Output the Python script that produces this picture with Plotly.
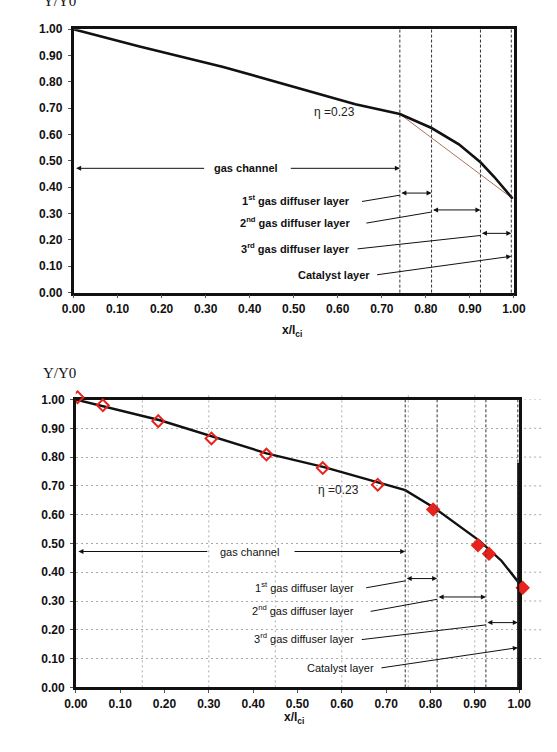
import plotly.graph_objects as go

# ---------------- data ----------------
# top chart: model curve
top_x = [0.0, 0.15, 0.34, 0.49, 0.64, 0.741, 0.813, 0.875, 0.924, 0.955, 0.997]
top_y = [1.0, 0.935, 0.857, 0.787, 0.715, 0.678, 0.625, 0.563, 0.495, 0.44, 0.357]
# top chart: straight reference chord
chord_x = [0.741, 0.997]
chord_y = [0.678, 0.357]

# bottom chart: model curve
bot_x = [0.0, 0.19, 0.43, 0.56, 0.743, 0.81, 0.91, 0.96, 1.0]
bot_y = [1.0, 0.928, 0.813, 0.765, 0.685, 0.622, 0.51, 0.44, 0.362]
# bottom chart: experimental points
exp_x = [0.004, 0.061, 0.186, 0.306, 0.43, 0.557, 0.681, 0.806, 0.907, 0.932, 1.008]
exp_y = [1.008, 0.98, 0.925, 0.865, 0.809, 0.762, 0.704, 0.618, 0.494, 0.464, 0.346]

# layer boundaries (x/lci)
bounds_top = [0.741, 0.813, 0.924, 0.994]
bounds_bot = [0.743, 0.815, 0.925, 0.997]

x_ticks = [0.0, 0.1, 0.2, 0.3, 0.4, 0.5, 0.6, 0.7, 0.8, 0.9, 1.0]
y_ticks = [0.0, 0.1, 0.2, 0.3, 0.4, 0.5, 0.6, 0.7, 0.8, 0.9, 1.0]
tick_text = ["<b>%.2f</b>" % v for v in x_ticks]
# vertical grid of the bottom chart (spacing 0.15)
vgrid_bot = [0.15, 0.30, 0.45, 0.60, 0.75, 0.90]

eta_label = "\u03b7 =0.23"
layer_labels = ["1<sup>st</sup> gas diffuser layer",
                "2<sup>nd</sup> gas diffuser layer",
                "3<sup>rd</sup> gas diffuser layer",
                "Catalyst layer"]
channel_label = "gas channel"

# ---------------- layout geometry ----------------
X1_DOM = [0.1154, 0.9417]
Y1_DOM = [0.6130, 0.9698]
X2_DOM = [0.1197, 0.9515]
Y2_DOM = [0.0781, 0.4681]
# invisible wider axes for the experimental markers (same scale, no clipping at frame)
X3_DOM = [X2_DOM[0], 0.99]
Y3_DOM = [Y2_DOM[0], 0.49]
x3_max = (X3_DOM[1] - X3_DOM[0]) / (X2_DOM[1] - X2_DOM[0])
y3_max = (Y3_DOM[1] - Y3_DOM[0]) / (Y2_DOM[1] - Y2_DOM[0])

# ---------------- figure ----------------
fig = go.Figure()

fig.add_trace(go.Scatter(x=chord_x, y=chord_y, mode="lines",
                         line=dict(color="#b0705a", width=1), xaxis="x", yaxis="y",
                         showlegend=False))
fig.add_trace(go.Scatter(x=top_x, y=top_y, mode="lines",
                         line=dict(color="#111111", width=2.6), xaxis="x", yaxis="y",
                         showlegend=False))

fig.add_trace(go.Scatter(x=bot_x, y=bot_y, mode="lines",
                         line=dict(color="#111111", width=2.4), xaxis="x2", yaxis="y2",
                         showlegend=False))
sym = ["diamond-open" if v < 0.75 else "diamond" for v in exp_x]
fig.add_trace(go.Scatter(x=exp_x, y=exp_y, mode="markers",
                         marker=dict(color="#e8231c", size=9, symbol=sym,
                                     line=dict(color="#e8231c", width=2)),
                         xaxis="x3", yaxis="y3", showlegend=False))

tickfont = dict(family="Liberation Sans, Arial", size=12, color="#111")
ax_common = dict(range=[0, 1], showline=True, mirror=True, linecolor="#111", linewidth=2.5,
                 zeroline=False, ticks="outside", ticklen=3, tickcolor="#555",
                 tickfont=tickfont, fixedrange=True)
hidden = dict(showline=False, showgrid=False, zeroline=False, showticklabels=False,
              ticks="", fixedrange=True)

fig.update_layout(
    width=557, height=752,
    margin=dict(l=0, r=0, t=0, b=0),
    paper_bgcolor="white", plot_bgcolor="rgba(0,0,0,0)",
    xaxis=dict(domain=X1_DOM, anchor="y", tickvals=x_ticks, ticktext=tick_text,
               showgrid=False, **ax_common),
    yaxis=dict(domain=Y1_DOM, anchor="x", tickvals=y_ticks, ticktext=tick_text,
               showgrid=False, ticklabelstandoff=3, **ax_common),
    xaxis2=dict(domain=X2_DOM, anchor="y2", tickvals=x_ticks, ticktext=tick_text,
                showgrid=False, **ax_common),
    yaxis2=dict(domain=Y2_DOM, anchor="x2", tickvals=y_ticks, ticktext=tick_text,
                showgrid=True, gridcolor="#aaaaaa", griddash="2px,3px", gridwidth=1,
                ticklabelstandoff=3, **ax_common),
    xaxis3=dict(domain=X3_DOM, anchor="y3", range=[0, x3_max], **hidden),
    yaxis3=dict(domain=Y3_DOM, anchor="x3", range=[0, y3_max], **hidden),
)

# vertical dotted grid of the bottom chart
for v in vgrid_bot:
    fig.add_shape(type="line", xref="x2", yref="y2 domain", x0=v, x1=v, y0=0, y1=1.02,
                  line=dict(color="#aaaaaa", width=1, dash="2px,3px"), layer="below")
# extend horizontal grid lines beyond the right frame (bottom chart)
for v in y_ticks[1:]:
    fig.add_shape(type="line", xref="paper", yref="y2", x0=X2_DOM[1], x1=0.995, y0=v, y1=v,
                  line=dict(color="#aaaaaa", width=1, dash="2px,3px"), layer="below")
# heavier lower right frame of the bottom chart
fig.add_shape(type="line", xref="x2", yref="y2", x0=1, x1=1, y0=0, y1=0.78,
              line=dict(color="#111", width=4))

# layer boundary dashed lines
for sfx, bounds in (("", bounds_top), ("2", bounds_bot)):
    for b in bounds:
        fig.add_shape(type="line", xref="x" + sfx, yref="y" + sfx + " domain",
                      x0=b, x1=b, y0=0, y1=1,
                      line=dict(color="#333", width=1, dash="3px,2px"))

annos = []
arrow = dict(showarrow=True, arrowhead=2, arrowsize=1, arrowwidth=1, arrowcolor="#111")

for sfx, bounds, bold in (("", bounds_top, True), ("2", bounds_bot, False)):
    xr, yr = "x" + sfx, "y" + sfx
    fnt = dict(family="Liberation Sans, Arial", size=11, color="#111")
    wrap = (lambda s: "<b>" + s + "</b>") if bold else (lambda s: s)
    # eta label
    annos.append(dict(x=0.593, y=0.686, xref=xr, yref=yr, text=eta_label, showarrow=False,
                      font=dict(family="Liberation Sans, Arial", size=12, color="#222")))
    # gas channel
    annos.append(dict(x=0.392, y=0.472, xref=xr, yref=yr, text=wrap(channel_label),
                      showarrow=False, font=fnt))
    annos.append(dict(x=0.006, y=0.472, ax=0.30, ay=0.472, xref=xr, yref=yr,
                      axref=xr, ayref=yr, text="", **arrow))
    annos.append(dict(x=bounds[0], y=0.472, ax=0.49, ay=0.472, xref=xr, yref=yr,
                      axref=xr, ayref=yr, text="", **arrow))
    # layer labels
    lab_y = [0.35, 0.268, 0.17, 0.067]
    arr_y = [0.378, 0.314, 0.225]
    lead_x0 = [0.655, 0.665, 0.645]
    for i in range(3):
        annos.append(dict(x=0.632, y=lab_y[i], xref=xr, yref=yr, text=wrap(layer_labels[i]),
                          showarrow=False, xanchor="right", font=fnt))
        # leader line to the layer
        fig.add_shape(type="line", xref=xr, yref=yr, x0=lead_x0[i], y0=lab_y[i] - 0.004,
                      x1=bounds[i], y1=arr_y[i] - 0.008, line=dict(color="#111", width=1))
        # double arrow spanning the layer
        annos.append(dict(x=bounds[i + 1], y=arr_y[i], ax=bounds[i], ay=arr_y[i],
                          xref=xr, yref=yr, axref=xr, ayref=yr, text="",
                          arrowside="end+start", **arrow))
    annos.append(dict(x=0.677, y=lab_y[3], xref=xr, yref=yr, text=wrap(layer_labels[3]),
                      showarrow=False, xanchor="right", font=fnt))
    annos.append(dict(x=bounds[3], y=0.138, ax=0.686, ay=lab_y[3], xref=xr, yref=yr,
                      axref=xr, ayref=yr, text="", **arrow))

# axis titles
annos.append(dict(x=0.054, y=1 - 4 / 752, xref="paper", yref="paper", text="Y/Y0",
                  showarrow=False, xanchor="left", yanchor="bottom",
                  font=dict(family="Liberation Serif, Times New Roman", size=15, color="#111")))
annos.append(dict(x=0.054, y=1 - 373 / 752, xref="paper", yref="paper", text="Y/Y0",
                  showarrow=False, xanchor="left", yanchor="middle",
                  font=dict(family="Liberation Serif, Times New Roman", size=15, color="#111")))
annos.append(dict(x=293 / 557, y=1 - 330 / 752, xref="paper", yref="paper",
                  text="<b>x/l<sub>ci</sub></b>", showarrow=False,
                  font=dict(family="Liberation Sans, Arial", size=12, color="#111")))
annos.append(dict(x=295 / 557, y=1 - 735 / 752, xref="paper", yref="paper",
                  text="<b>x/l<sub>ci</sub></b>", showarrow=False,
                  font=dict(family="Liberation Sans, Arial", size=12, color="#111")))

fig.update_layout(annotations=annos)

fig.write_html("out.html")
